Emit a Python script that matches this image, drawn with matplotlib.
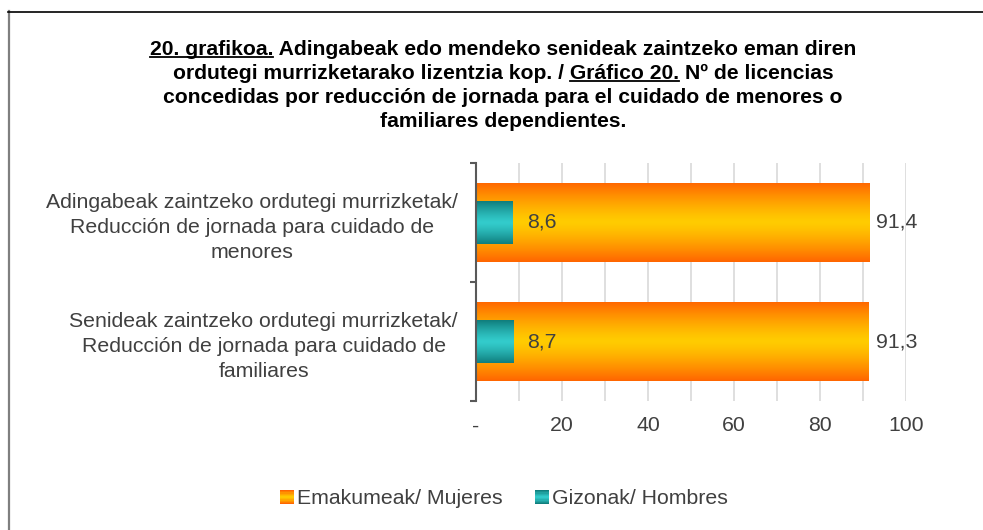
import numpy as np
import matplotlib
matplotlib.use("Agg")
import matplotlib.pyplot as plt
from matplotlib import font_manager as fm
from matplotlib.patches import Rectangle
from matplotlib.lines import Line2D
from matplotlib.legend_handler import HandlerBase
from matplotlib.colors import to_rgb

# ---------------- data ----------------
categories = [
    "Adingabeak zaintzeko ordutegi murrizketak/\nReducción de jornada para cuidado de\nmenores",
    "Senideak zaintzeko ordutegi murrizketak/\nReducción de jornada para cuidado de\nfamiliares",
]
women = [91.4, 91.3]
men = [8.6, 8.7]
series_names = ["Emakumeak/ Mujeres", "Gizonak/ Hombres"]
x_ticks = [0, 20, 40, 60, 80, 100]
x_tick_labels = ["-", "20", "40", "60", "80", "100"]
title_lines = [
    "20. grafikoa. Adingabeak edo mendeko senideak zaintzeko eman diren",
    "ordutegi murrizketarako lizentzia kop. / Gráfico 20. Nº de licencias",
    "concedidas por reducción de jornada para el cuidado de menores o",
    "familiares dependientes.",
]
underlines = [(0, "", "20. grafikoa."),
              (1, "ordutegi murrizketarako lizentzia kop. / ", "Gráfico 20.")]

# ---------------- style ----------------
names = {f.name for f in fm.fontManager.ttflist}
base_font = "Liberation Sans" if "Liberation Sans" in names else "DejaVu Sans"
narrow_font = "Liberation Sans Narrow" if "Liberation Sans Narrow" in names else base_font
plt.rcParams["font.family"] = [base_font, "DejaVu Sans"]

W, H = 983, 530
fig = plt.figure(figsize=(W / 100, H / 100), dpi=100)
fig.patch.set_facecolor("white")

orange_edge, orange_mid = "#FF6600", "#FFCC00"
teal_edge, teal_mid = "#107E7D", "#33CCCC"
text_col = "#404040"
fs = 15.3


def grad_colors(edge, mid, n=64):
    e = np.array(to_rgb(edge))
    m = np.array(to_rgb(mid))
    t = np.linspace(-1, 1, n)
    w = np.abs(t)[:, None] ** 1.3
    return (m * (1 - w) + e * w)


ax = fig.add_axes([476 / W, 1 - 401 / H, 430 / W, 238 / H])
y = np.arange(len(categories))

bars_w = ax.barh(y, women, height=0.67, color=orange_mid, zorder=2, linewidth=0)
bars_m = ax.barh(y, men, height=0.36, color=teal_mid, zorder=3, linewidth=0)

for bars, (ce, cm), z in [(bars_w, (orange_edge, orange_mid), 2.1),
                         (bars_m, (teal_edge, teal_mid), 3.1)]:
    g = grad_colors(ce, cm)[:, None, :]
    for p in bars:
        x0, y0 = p.get_x(), p.get_y()
        im = ax.imshow(g, extent=[x0, x0 + p.get_width(), y0, y0 + p.get_height()],
                       aspect="auto", zorder=z, interpolation="bilinear")
        im.set_clip_path(p)

ax.set_xlim(0, 100)
ax.set_ylim(len(categories) - 0.5, -0.5)

ax.set_xticks(x_ticks)
ax.set_xticklabels(x_tick_labels, fontsize=fs, color=text_col)
ax.set_xticks(np.arange(10, 100, 20), minor=True)
ax.tick_params(axis="x", which="both", length=0, pad=11)
ax.grid(axis="x", which="both", color="#D9D9D9", linewidth=1.2)
ax.set_axisbelow(True)

ax.set_yticks(y)
ax.set_yticklabels(categories, fontsize=fs, color=text_col, multialignment="center",
                   linespacing=1.38)
ax.set_yticks(np.arange(-0.5, len(categories)), minor=True)
ax.tick_params(axis="y", which="major", length=0, pad=13)
ax.tick_params(axis="y", which="minor", length=4.5, width=1.5, color="#595959", direction="out")

for s in ["top", "right", "bottom"]:
    ax.spines[s].set_visible(False)
ax.spines["left"].set_color("#595959")
ax.spines["left"].set_linewidth(1.5)
ax.spines["left"].set_zorder(5)

for yi, v in zip(y, women):
    ax.annotate(f"{v:.1f}".replace(".", ","), (v, yi), xytext=(7, 0),
                textcoords="offset pixels", va="center", ha="left",
                fontsize=fs, color=text_col)
for yi, v in zip(y, men):
    ax.annotate(f"{v:.1f}".replace(".", ","), (v, yi), xytext=(14, 0),
                textcoords="offset pixels", va="center", ha="left",
                fontsize=fs, color=text_col, zorder=6)


# legend with gradient squares
class GradHandler(HandlerBase):
    def __init__(self, edge, mid, n=12):
        super().__init__()
        self.edge, self.mid, self.n = edge, mid, n

    def create_artists(self, legend, orig_handle, xdescent, ydescent, width, height, fontsize, trans):
        cols = grad_colors(self.edge, self.mid, self.n)
        arts = []
        h = height / self.n
        for i, c in enumerate(cols):
            arts.append(Rectangle((-xdescent, -ydescent + i * h), width, h * 1.02,
                                  facecolor=c, edgecolor="none", transform=trans))
        return arts


hw = Rectangle((0, 0), 1, 1)
hm = Rectangle((0, 0), 1, 1)
leg = fig.legend([hw, hm], series_names, loc="center",
                 bbox_to_anchor=(504 / W, 1 - 499 / H), ncol=2, frameon=False,
                 prop={"size": fs}, handlelength=0.64, handleheight=0.64,
                 handletextpad=0.15, columnspacing=1.55,
                 handler_map={hw: GradHandler(orange_edge, orange_mid),
                              hm: GradHandler(teal_edge, teal_mid)})
for t in leg.get_texts():
    t.set_color(text_col)

# title with underlined segments
title_kw = dict(fontsize=15.2, fontweight="bold", color="black", family=[narrow_font, "DejaVu Sans"])
baselines = [55, 79, 103, 127]
cx = 503 / W
renderer = fig.canvas.get_renderer()
title_texts = []
for line, b in zip(title_lines, baselines):
    t = fig.text(cx, 1 - b / H, line, ha="center", va="baseline", **title_kw)
    title_texts.append(t)


def text_width(s):
    tmp = fig.text(0, 0, s, **title_kw)
    w = tmp.get_window_extent(renderer).width
    tmp.remove()
    return w


bar_w = text_width("|")
for li, prefix, seg in underlines:
    bb = title_texts[li].get_window_extent(renderer)
    xs = bb.x0 + (text_width(prefix + "|") - bar_w if prefix else 0)
    xe = xs + text_width(seg)
    yu = 1 - (baselines[li] + 2.4) / H
    fig.add_artist(Line2D([xs / W, xe / W], [yu, yu], transform=fig.transFigure,
                          color="black", linewidth=1.3))

# outer chart border (partially visible)
fig.add_artist(Line2D([8.5 / W, 8.5 / W], [0, 1 - 11 / H], transform=fig.transFigure,
                      color="#7F7F7F", linewidth=1.6))
fig.add_artist(Line2D([8 / W, 1], [1 - 11.5 / H, 1 - 11.5 / H], transform=fig.transFigure,
                      color="black", linewidth=1.2))

fig.savefig("out.png", dpi=100, facecolor="white")
